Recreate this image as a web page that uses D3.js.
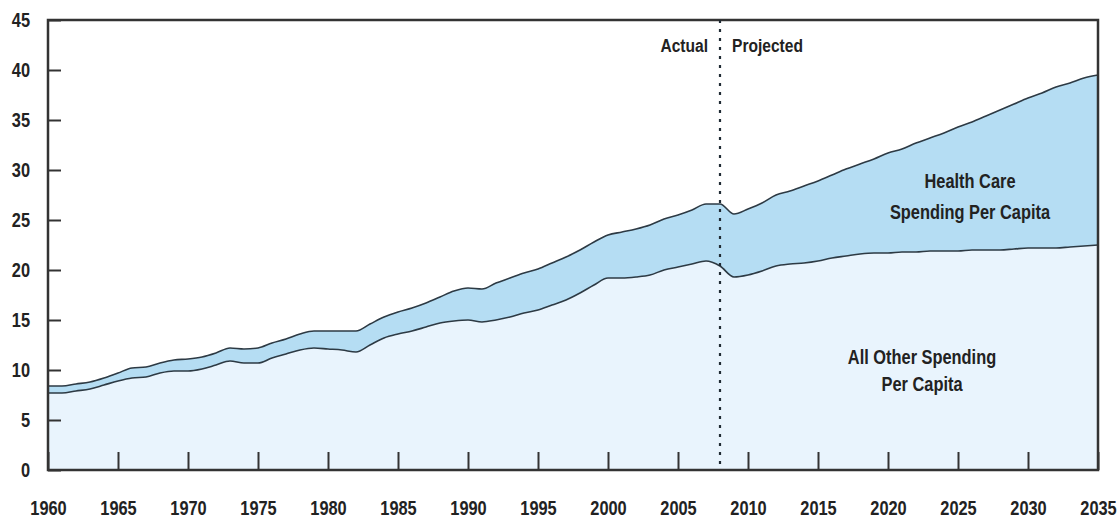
<!DOCTYPE html>
<html>
<head>
<meta charset="utf-8">
<script src="https://cdn.jsdelivr.net/npm/d3@7"></script>
<style>
  html, body { margin: 0; padding: 0; background: #fff; }
  svg text { font-family: "Liberation Sans", Arial, sans-serif; font-weight: bold; fill: #222; }
</style>
</head>
<body>
<svg id="chart" width="1120" height="520"></svg>
<script>
const years = d3.range(1960, 2036);
const allOtherSpending = [
  7.7, 7.7, 7.9, 8.1, 8.5, 8.9, 9.2, 9.3, 9.7, 9.9,
  9.9, 10.1, 10.5, 10.9, 10.7, 10.7, 11.2, 11.6, 12.0, 12.2,
  12.1, 12.0, 11.8, 12.5, 13.2, 13.6, 13.9, 14.3, 14.7, 14.9,
  15.0, 14.8, 15.0, 15.3, 15.7, 16.0, 16.5, 17.0, 17.7, 18.5,
  19.2, 19.2, 19.3, 19.5, 20.0, 20.3, 20.6, 20.9, 20.4, 19.3,
  19.5, 19.9, 20.4, 20.6, 20.7, 20.9, 21.2, 21.4, 21.6, 21.7,
  21.7, 21.8, 21.8, 21.9, 21.9, 21.9, 22.0, 22.0, 22.0, 22.1,
  22.2, 22.2, 22.2, 22.3, 22.4, 22.5
];
const healthCareSpending = [
  0.7, 0.7, 0.7, 0.7, 0.7, 0.8, 1.0, 1.0, 1.0, 1.1,
  1.2, 1.2, 1.2, 1.3, 1.4, 1.5, 1.5, 1.5, 1.6, 1.7,
  1.8, 1.9, 2.1, 2.1, 2.1, 2.2, 2.3, 2.4, 2.6, 3.0,
  3.2, 3.3, 3.7, 3.9, 4.0, 4.1, 4.2, 4.3, 4.3, 4.3,
  4.3, 4.6, 4.8, 5.0, 5.1, 5.2, 5.4, 5.7, 6.2, 6.3,
  6.6, 6.8, 7.1, 7.3, 7.7, 8.0, 8.3, 8.7, 9.0, 9.4,
  10.0, 10.3, 10.9, 11.3, 11.8, 12.4, 12.8, 13.4, 14.0, 14.5,
  15.0, 15.5, 16.1, 16.4, 16.8, 17.0
];
const xTickYears = [1960, 1965, 1970, 1975, 1980, 1985, 1990, 1995, 2000, 2005, 2010, 2015, 2020, 2025, 2030, 2035];
const yTickValues = [0, 5, 10, 15, 20, 25, 30, 35, 40, 45];
const splitYear = 2008;
const seriesLabels = {
  healthCare: ["Health Care", "Spending Per Capita"],
  allOther: ["All Other Spending", "Per Capita"]
};

const NARROW = 0.82; // Arial-Narrow-like horizontal condensation of the text

const rows = years.map((yr, i) => ({ year: yr, allOther: allOtherSpending[i], healthCare: healthCareSpending[i] }));

const svg = d3.select("#chart");
const margin = { left: 48, right: 22, top: 20, bottom: 50 };
const W = 1120, H = 520;
const x = d3.scaleLinear().domain([1960, 2035]).range([margin.left, W - margin.right]);
const y = d3.scaleLinear().domain([0, 45]).range([H - margin.bottom, margin.top]);

const stack = d3.stack().keys(["allOther", "healthCare"]);
const layers = stack(rows);
const fills = { allOther: "#e9f4fd", healthCare: "#b5ddf3" };

const area = d3.area()
  .x(d => x(d.data.year))
  .y0(d => y(d[0]))
  .y1(d => y(d[1]))
  .curve(d3.curveMonotoneX);

const line = d3.line()
  .x(d => x(d.data.year))
  .y(d => y(d[1]))
  .curve(d3.curveMonotoneX);

svg.append("g").selectAll("path.area")
  .data(layers).join("path")
  .attr("class", "area")
  .attr("fill", d => fills[d.key])
  .attr("d", area);

svg.append("g").selectAll("path.line")
  .data(layers).join("path")
  .attr("class", "line")
  .attr("fill", "none")
  .attr("stroke", "#2d3a44")
  .attr("stroke-width", 1.6)
  .attr("d", line);

// Axes
const yAxis = d3.axisLeft(y).tickValues(yTickValues).tickSize(-13).tickPadding(18).tickFormat(d3.format("d"));
const gy = svg.append("g").attr("transform", `translate(${margin.left},0)`).call(yAxis);
gy.select(".domain").remove();
gy.selectAll(".tick line").attr("stroke", "#333").attr("stroke-width", 2);
gy.selectAll(".tick text")
  .style("font-size", "20px").attr("fill", "#222")
  .attr("x", -18 / NARROW)
  .attr("transform", `scale(${NARROW},1)`);

const xAxis = d3.axisBottom(x).tickValues(xTickYears).tickSize(-18).tickPadding(31).tickFormat(d3.format("d"));
const gx = svg.append("g").attr("transform", `translate(0,${H - margin.bottom})`).call(xAxis);
gx.select(".domain").remove();
gx.selectAll(".tick line").attr("stroke", "#333").attr("stroke-width", 2);
gx.selectAll(".tick text")
  .style("font-size", "20px").attr("fill", "#222")
  .attr("transform", `scale(${NARROW},1)`);

// Frame
svg.append("rect")
  .attr("x", x(1960)).attr("y", y(45))
  .attr("width", x(2035) - x(1960)).attr("height", y(0) - y(45))
  .attr("fill", "none").attr("stroke", "#333").attr("stroke-width", 2.5);

// Actual / Projected split
svg.append("line")
  .attr("x1", x(splitYear)).attr("x2", x(splitYear))
  .attr("y1", y(45)).attr("y2", y(0))
  .attr("stroke", "#1f2a33").attr("stroke-width", 2.2)
  .attr("stroke-dasharray", "3,6");

function narrowText(px, py, anchor, size, fill) {
  return svg.append("g").attr("transform", `translate(${px},${py}) scale(${NARROW},1)`)
    .append("text").attr("text-anchor", anchor).style("font-size", size + "px").attr("fill", fill);
}

narrowText(x(splitYear) - 12, 52, "end", 19, "#222").text("Actual");
narrowText(x(splitYear) + 12, 52, "start", 19, "#222").text("Projected");

// Series labels
const hc = narrowText(970, 188, "middle", 20, "#1e2a36");
seriesLabels.healthCare.forEach((t, i) => hc.append("tspan").attr("x", 0).attr("y", i * 31).text(t));
const ao = narrowText(922, 364, "middle", 20, "#1e2a36");
seriesLabels.allOther.forEach((t, i) => ao.append("tspan").attr("x", 0).attr("y", i * 27).text(t));
</script>
</body>
</html>
